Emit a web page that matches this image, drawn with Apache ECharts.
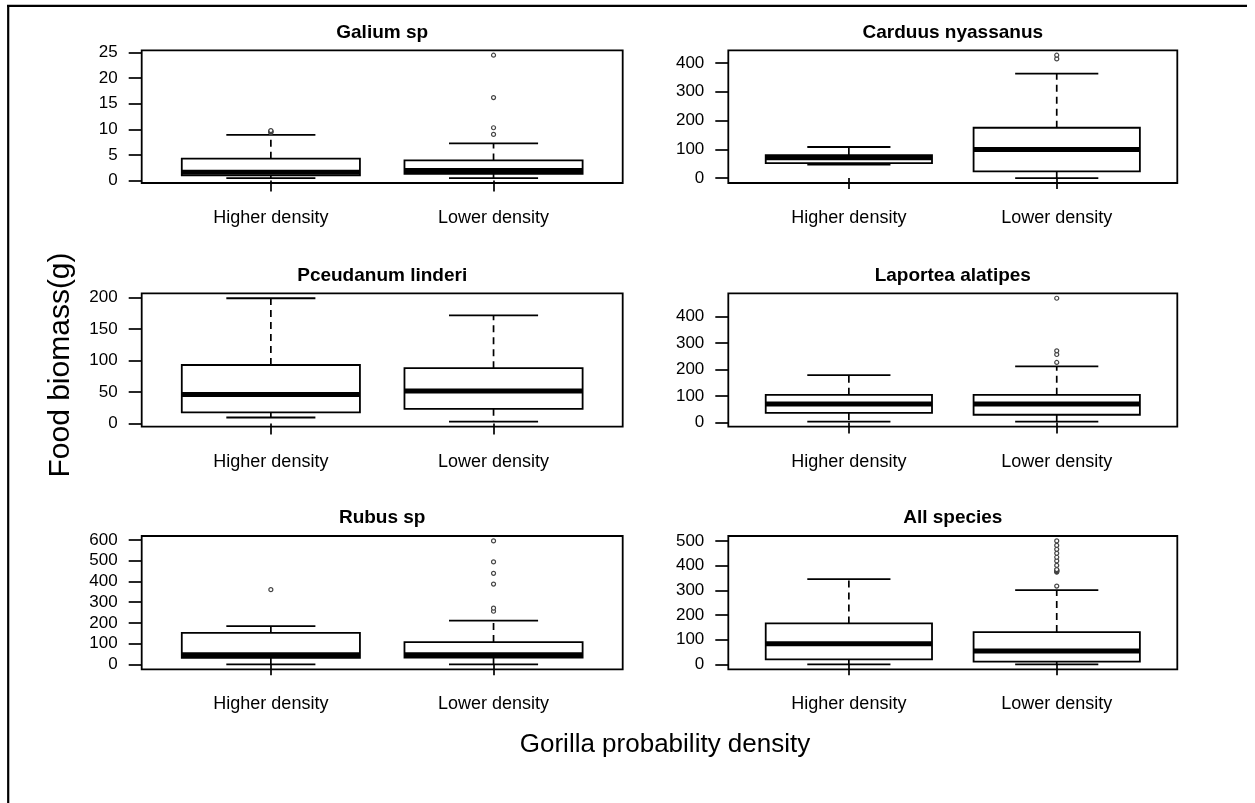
<!DOCTYPE html>
<html><head><meta charset="utf-8">
<script src="https://cdn.jsdelivr.net/npm/echarts@6/dist/echarts.min.js"></script>
<style>html,body{margin:0;padding:0;background:#fff}#c{width:1255px;height:803px}</style>
</head><body><div id="c"></div>
<script>
const categories = ['Higher density', 'Lower density'];
const panelTitles = ['Galium sp', 'Carduus nyassanus', 'Pceudanum linderi', 'Laportea alatipes', 'Rubus sp', 'All species'];
const xTitle = 'Gorilla probability density';
const yTitle = 'Food biomass(g)';

// each box: [lower whisker, Q1, median, Q3, upper whisker]
const galiumBox = [[0.45, 1.0, 1.6, 4.25, 8.9], [0.45, 1.3, 1.95, 3.9, 7.25]];
const galiumOut = [[9.35, 9.45, 9.55, 9.65, 9.75], [9.0, 10.3, 16.2, 24.5]];
const carduusBox = [[47, 52, 71, 80, 108], [0, 23, 99, 175, 363]];
const carduusOut = [[], [414, 427]];
const pceudanumBox = [[9.6, 17.6, 46, 93, 199], [3, 23.4, 51.7, 88, 171.7]];
const pceudanumOut = [[], []];
const laporteaBox = [[3, 36, 70, 104, 178], [3, 29, 70, 104, 211]];
const laporteaOut = [[], [226, 256, 270, 468]];
const rubusBox = [[0, 32, 46, 152, 184], [0, 32, 46, 107.5, 211]];
const rubusOut = [[360], [256, 271, 387, 439, 494, 595]];
const allBox = [[0, 20, 84, 166, 345], [0, 11, 54, 131, 301]];
const allOut = [[], [317, 374, 376, 378, 380, 382, 384, 401, 419, 434, 450, 466, 482, 500]];

const galiumTicks = [0, 5, 10, 15, 20, 25];
const carduusTicks = [0, 100, 200, 300, 400];
const pceudanumTicks = [0, 50, 100, 150, 200];
const laporteaTicks = [0, 100, 200, 300, 400];
const rubusTicks = [0, 100, 200, 300, 400, 500, 600];
const allTicks = [0, 100, 200, 300, 400, 500];

const panels = [
  { box: galiumBox, out: galiumOut, ticks: galiumTicks },
  { box: carduusBox, out: carduusOut, ticks: carduusTicks },
  { box: pceudanumBox, out: pceudanumOut, ticks: pceudanumTicks },
  { box: laporteaBox, out: laporteaOut, ticks: laporteaTicks },
  { box: rubusBox, out: rubusOut, ticks: rubusTicks },
  { box: allBox, out: allOut, ticks: allTicks }
];

const gridRects = [
  { left: 141.7, top: 50.3, width: 481, height: 132.7 },
  { left: 728.3, top: 50.3, width: 449, height: 132.7 },
  { left: 141.7, top: 293.3, width: 481, height: 133.3 },
  { left: 728.3, top: 293.3, width: 449, height: 133.3 },
  { left: 141.7, top: 536, width: 481, height: 133.3 },
  { left: 728.3, top: 536, width: 449, height: 133.3 }
];

const FONT = 'Liberation Sans, Arial, sans-serif';

function renderBox(params, api) {
  const x = api.value(0);
  const lo = api.value(1), q1 = api.value(2), med = api.value(3), q3 = api.value(4), hi = api.value(5);
  const hw = 0.4, cw = 0.2;
  const tl = api.coord([x - hw, q3]);
  const br = api.coord([x + hw, q1]);
  const cHi = api.coord([x, hi]), cQ3 = api.coord([x, q3]), cQ1 = api.coord([x, q1]), cLo = api.coord([x, lo]);
  const sL = api.coord([x - cw, hi]), sR = api.coord([x + cw, hi]);
  const lL = api.coord([x - cw, lo]), lR = api.coord([x + cw, lo]);
  const mL = api.coord([x - hw, med]), mR = api.coord([x + hw, med]);
  const dashed = { stroke: '#000', lineWidth: 1.7, lineDash: [7, 5] };
  const solid = { stroke: '#000', lineWidth: 1.8 };
  return {
    type: 'group',
    children: [
      { type: 'line', shape: { x1: cQ3[0], y1: cQ3[1], x2: cHi[0], y2: cHi[1] }, style: dashed },
      { type: 'line', shape: { x1: cQ1[0], y1: cQ1[1], x2: cLo[0], y2: cLo[1] }, style: dashed },
      { type: 'line', shape: { x1: sL[0], y1: sL[1], x2: sR[0], y2: sR[1] }, style: solid },
      { type: 'line', shape: { x1: lL[0], y1: lL[1], x2: lR[0], y2: lR[1] }, style: solid },
      { type: 'rect', shape: { x: tl[0], y: tl[1], width: br[0] - tl[0], height: br[1] - tl[1] }, style: { fill: '#fff', stroke: '#000', lineWidth: 1.8 } },
      { type: 'line', shape: { x1: mL[0], y1: mL[1], x2: mR[0], y2: mR[1] }, style: { stroke: '#000', lineWidth: 5 } }
    ]
  };
}

const grid = [], xAxis = [], yAxis = [], series = [], graphic = [];

panels.forEach((p, i) => {
  const g = gridRects[i];
  grid.push(Object.assign({ show: true, borderColor: '#000', borderWidth: 1.8, backgroundColor: 'transparent', containLabel: false }, g));
  let lo = Infinity, hi = -Infinity;
  p.box.forEach(b => b.forEach(v => { lo = Math.min(lo, v); hi = Math.max(hi, v); }));
  p.out.forEach(o => o.forEach(v => { lo = Math.min(lo, v); hi = Math.max(hi, v); }));
  const pad = 0.04 * (hi - lo);
  xAxis.push({
    type: 'value', gridIndex: i, min: 0.42, max: 2.58,
    splitLine: { show: false }, axisLine: { show: false },
    axisTick: { show: true, customValues: [1, 2], length: 11, lineStyle: { color: '#000', width: 1.7 } },
    axisLabel: { customValues: [1, 2], formatter: v => categories[Math.round(v) - 1], margin: 26, fontSize: 18, color: '#000', fontFamily: FONT }
  });
  yAxis.push({
    type: 'value', gridIndex: i, min: lo - pad, max: hi + pad,
    splitLine: { show: false }, axisLine: { show: false },
    axisTick: { show: true, customValues: p.ticks, length: 13, lineStyle: { color: '#000', width: 1.7 } },
    axisLabel: { customValues: p.ticks, margin: 24, fontSize: 17, color: '#000', fontFamily: FONT }
  });
  series.push({
    type: 'custom', xAxisIndex: i, yAxisIndex: i,
    renderItem: renderBox,
    encode: { x: 0, y: [1, 2, 3, 4, 5] },
    data: p.box.map((b, k) => [k + 1].concat(b)),
    silent: true, animation: false
  });
  const pts = [];
  p.out.forEach((o, k) => o.forEach(v => pts.push([k + 1, v])));
  series.push({
    type: 'scatter', xAxisIndex: i, yAxisIndex: i,
    data: pts, symbol: 'circle', symbolSize: 4,
    itemStyle: { color: '#fff', borderColor: '#444', borderWidth: 1.2, opacity: 1 },
    silent: true, animation: false, z: 5
  });
  graphic.push({
    type: 'text', x: g.left + g.width / 2, y: g.top - 18,
    style: { text: panelTitles[i], fontFamily: FONT, fontSize: 19, fontWeight: 'bold', fill: '#000', align: 'center', verticalAlign: 'middle' }
  });
});

graphic.push({ type: 'text', x: 665, y: 745, style: { text: xTitle, fontFamily: FONT, fontSize: 26, fill: '#000', align: 'center', verticalAlign: 'middle' } });
graphic.push({ type: 'text', x: 61, y: 365, rotation: Math.PI / 2, style: { text: yTitle, fontFamily: FONT, fontSize: 30, fill: '#000', align: 'center', verticalAlign: 'middle' } });
graphic.push({ type: 'line', shape: { x1: 7, y1: 5.8, x2: 1247, y2: 5.8 }, style: { stroke: '#000', lineWidth: 2.2 } });
graphic.push({ type: 'line', shape: { x1: 8.2, y1: 5, x2: 8.2, y2: 803 }, style: { stroke: '#000', lineWidth: 2.2 } });

const chart = echarts.init(document.getElementById('c'), null, { renderer: 'canvas' });
chart.setOption({ backgroundColor: '#fff', animation: false, grid, xAxis, yAxis, series, graphic });
</script>
</body></html>
